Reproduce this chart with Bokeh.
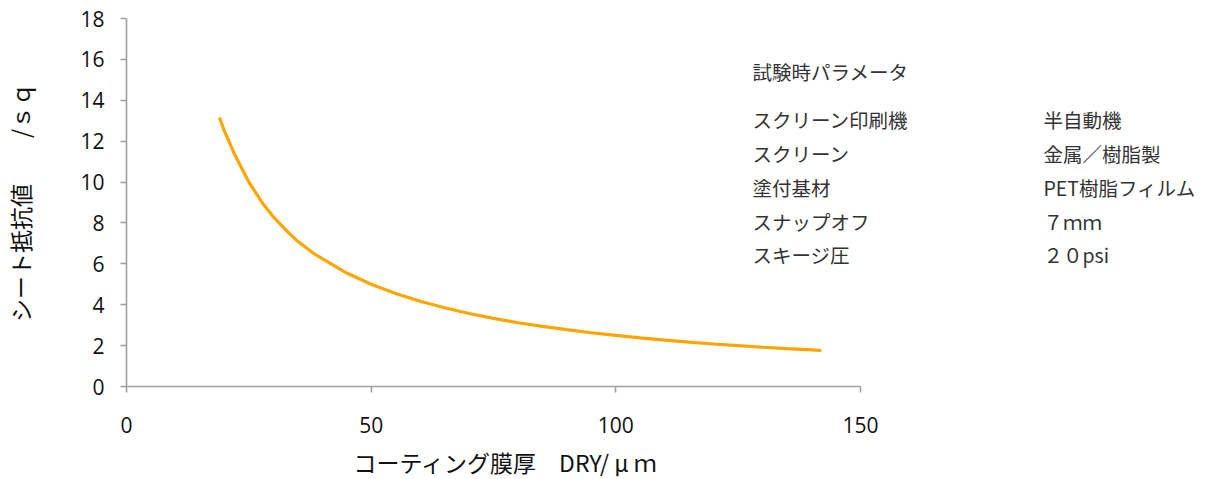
from bokeh.plotting import figure
from bokeh.models import Range1d, Label, FixedTicker, Title
from bokeh.embed import file_html
from bokeh.resources import INLINE

# Data
thickness_um = [19, 20, 22, 25, 28, 30, 33, 35, 38, 40, 45, 50, 55, 60, 65, 70, 75, 80,
                85, 90, 95, 100, 105, 110, 115, 120, 125, 130, 135, 140, 142]
sheet_res = [13.16, 12.5, 11.4, 10.0, 8.9, 8.3, 7.55, 7.1, 6.55, 6.25, 5.55, 5.0, 4.55,
             4.17, 3.85, 3.57, 3.33, 3.12, 2.94, 2.78, 2.63, 2.5, 2.38, 2.27, 2.17, 2.08,
             2.0, 1.92, 1.85, 1.79, 1.76]

x_ticks = [0, 50, 100, 150]
y_ticks = [0, 2, 4, 6, 8, 10, 12, 14, 16, 18]

param_title = "試験時パラメータ"
param_names = ["スクリーン印刷機", "スクリーン", "塗付基材", "スナップオフ", "スキージ圧"]
param_values = ["半自動機", "金属／樹脂製", "PET樹脂フィルム", "７ｍｍ", "２０psi"]

x_label = "コーティング膜厚　DRY/ μ ｍ"
y_label = "シート抵抗値　　/ｓｑ"

JP = "Noto Sans CJK JP"
NUM = "Open Sans"
AXIS_COLOR = "#a0a0a0"

X_MAX = 150
AXIS_PX = 734                      # pixel length of the drawn x axis
FRAME_W = 1069                     # frame extends right to hold the notes
px_per_unit = AXIS_PX / X_MAX

p = figure(output_backend="svg", toolbar_location=None,
           width=1195, height=463,
           x_range=Range1d(0, FRAME_W / px_per_unit), y_range=Range1d(0, 18))
p.frame_width = FRAME_W
p.frame_height = 368
p.min_border_left = 126
p.min_border_top = 18
p.min_border_right = 0
p.min_border_bottom = 0

p.outline_line_color = None
p.grid.visible = False
p.background_fill_color = "white"

p.line(thickness_um, sheet_res, line_color="#FFA500", line_width=3.2)

for ax in (p.xaxis[0], p.yaxis[0]):
    ax.axis_line_color = AXIS_COLOR
    ax.axis_line_width = 1.6
    ax.major_tick_line_color = AXIS_COLOR
    ax.major_tick_line_width = 1.6
    ax.major_tick_in = 0
    ax.major_tick_out = 6
    ax.minor_tick_line_color = None
    ax.major_label_text_font = NUM
    ax.major_label_text_font_size = "21px"
    ax.major_label_text_color = "#111111"
    ax.axis_label_text_font = JP
    ax.axis_label_text_font_size = "23px"
    ax.axis_label_text_font_style = "normal"
    ax.axis_label_text_color = "#111111"

p.xaxis[0].bounds = (0, X_MAX)
p.xaxis[0].ticker = FixedTicker(ticks=x_ticks)
p.yaxis[0].ticker = FixedTicker(ticks=y_ticks)
p.yaxis[0].axis_label = y_label
p.xaxis[0].major_label_standoff = 24
p.yaxis[0].major_label_standoff = 16
p.yaxis[0].axis_label_standoff = 40

# x-axis caption, left-aligned under the drawn axis
p.add_layout(Title(text=x_label, align="left", offset=353 - 126, standoff=14,
                   text_font=JP, text_font_size="23px", text_font_style="normal",
                   text_color="#111111"), "below")

# parameter annotations (positions in data units)
col1_x = (752 - 126) / px_per_unit
col2_x = (1043 - 126) / px_per_unit
NOTE_COLOR = "#333333"
NOTE_SIZE = "19.5px"
p.add_layout(Label(x=col1_x, y=15.42, text=param_title, text_font=JP,
                   text_font_size=NOTE_SIZE, text_baseline="middle", text_color=NOTE_COLOR))
row_y = [13.06, 11.39, 9.73, 8.08, 6.46]
for name, val, yy in zip(param_names, param_values, row_y):
    p.add_layout(Label(x=col1_x, y=yy, text=name, text_font=JP,
                       text_font_size=NOTE_SIZE, text_baseline="middle", text_color=NOTE_COLOR))
    p.add_layout(Label(x=col2_x, y=yy, text=val, text_font=JP,
                       text_font_size=NOTE_SIZE, text_baseline="middle", text_color=NOTE_COLOR))

open("out.html", "w").write(file_html(p, INLINE))
